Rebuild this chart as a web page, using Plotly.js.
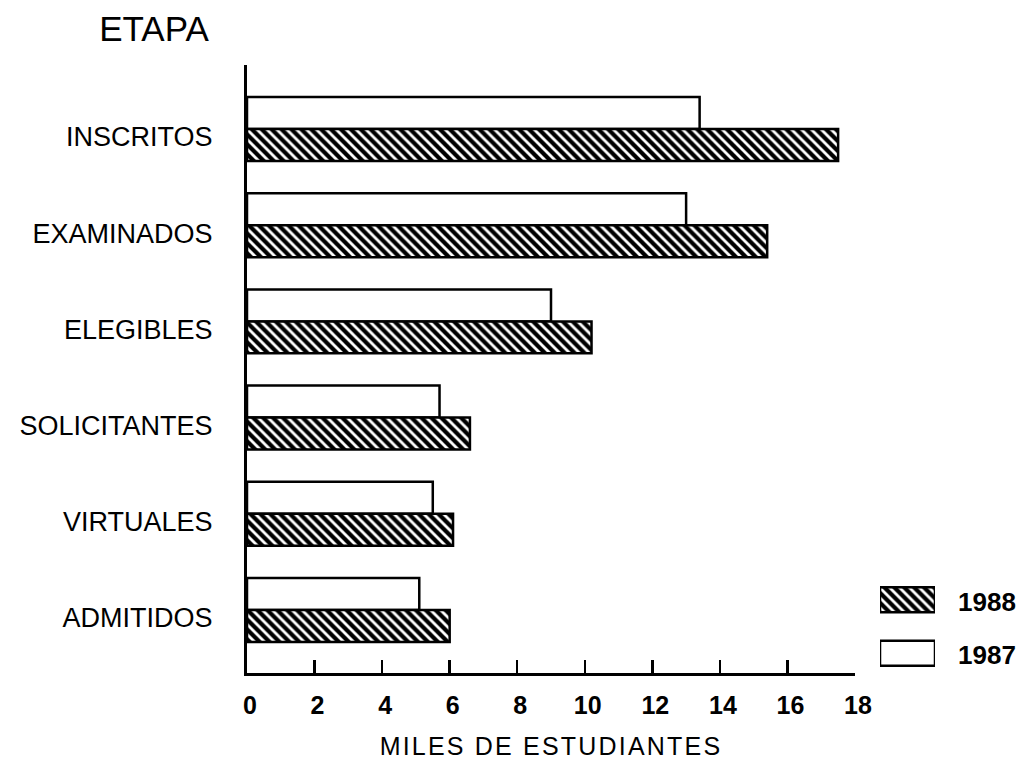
<!DOCTYPE html>
<html>
<head>
<meta charset="utf-8">
<script src="https://cdn.plot.ly/plotly-3.0.1.min.js"></script>
<style>
  html, body { margin: 0; padding: 0; background: #ffffff; }
  #chart { width: 1033px; height: 761px; }
  .xtitle { letter-spacing: 2.2px; }
</style>
</head>
<body>
<div id="chart"></div>
<script>
// ---- data (thousands of students) ----
const etapas = ['INSCRITOS', 'EXAMINADOS', 'ELEGIBLES', 'SOLICITANTES', 'VIRTUALES', 'ADMITIDOS'];
const valores1987 = [13.4, 13.0, 9.0, 5.7, 5.5, 5.1];
const valores1988 = [17.5, 15.4, 10.2, 6.6, 6.1, 6.0];
const xTickVals = [0, 2, 4, 6, 8, 10, 12, 14, 16, 18];
const serieNombres = ['1988', '1987'];
const claveLongitud = [1, 1];

const FONT = 'Liberation Sans, Arial, Helvetica, sans-serif';
const hatch = { shape: '\\', fgcolor: '#000000', bgcolor: '#ffffff', size: 7, solidity: 0.6, fillmode: 'replace' };
const outline = { color: '#000000', width: 2.5 };

const traces = [
  {
    type: 'bar', orientation: 'h', name: '1987',
    y: etapas, x: valores1987,
    marker: { color: '#ffffff', line: outline },
    xaxis: 'x', yaxis: 'y', showlegend: false, hoverinfo: 'skip'
  },
  {
    type: 'bar', orientation: 'h', name: '1988',
    y: etapas, x: valores1988,
    marker: { color: '#ffffff', pattern: hatch, line: outline },
    xaxis: 'x', yaxis: 'y', showlegend: false, hoverinfo: 'skip'
  },
  // legend key drawn as a tiny second subplot
  {
    type: 'bar', orientation: 'h',
    y: [serieNombres[0]], x: [claveLongitud[0]],
    marker: { color: '#ffffff', pattern: hatch, line: outline },
    xaxis: 'x2', yaxis: 'y2', showlegend: false, hoverinfo: 'skip', width: 0.47
  },
  {
    type: 'bar', orientation: 'h',
    y: [serieNombres[1]], x: [claveLongitud[1]],
    marker: { color: '#ffffff', line: outline },
    xaxis: 'x2', yaxis: 'y2', showlegend: false, hoverinfo: 'skip', width: 0.47
  }
];

const W = 1033, H = 761;
const layout = {
  width: W, height: H,
  margin: { l: 0, r: 0, t: 0, b: 0 },
  paper_bgcolor: '#ffffff', plot_bgcolor: '#ffffff',
  font: { family: FONT, color: '#000000' },
  barmode: 'group',
  bargap: 0.335,
  bargroupgap: 0,
  title: {
    text: 'ETAPA', font: { family: FONT, size: 35, color: '#000000' },
    xref: 'paper', yref: 'paper', x: 154 / W, xanchor: 'center', y: 1 - 29 / H, yanchor: 'middle'
  },
  xaxis: {
    domain: [247 / W, 855 / W],
    range: [0, 18],
    tickvals: xTickVals,
    ticktext: xTickVals.map(String),
    ticks: 'inside', ticklen: 13, tickwidth: 2.5, tickcolor: '#000000',
    showline: true, linewidth: 3, linecolor: '#000000',
    showgrid: false, zeroline: false,
    tickfont: { family: FONT, size: 25, weight: 'bold', color: '#000000' },
    ticklabelstandoff: 8,
    ticklabelshift: 3,
    automargin: false,
    title: { text: 'MILES DE ESTUDIANTES', font: { family: FONT, size: 25, color: '#000000' }, standoff: 20 },
    fixedrange: true
  },
  yaxis: {
    domain: [(H - 673) / H, (H - 65) / H],
    type: 'category',
    categoryorder: 'array', categoryarray: etapas,
    range: [5.655, -0.665],
    ticks: '', showline: true, linewidth: 3, linecolor: '#000000',
    showgrid: false, zeroline: false,
    tickfont: { family: FONT, size: 27, color: '#000000' },
    ticklabelstandoff: 26,
    ticklabelshift: -8,
    automargin: false,
    fixedrange: true
  },
  xaxis2: {
    domain: [880 / W, 935 / W], anchor: 'y2',
    range: [0, 1], visible: false, fixedrange: true
  },
  yaxis2: {
    domain: [(H - 680) / H, (H - 573) / H], anchor: 'x2',
    type: 'category', categoryorder: 'array', categoryarray: serieNombres,
    range: [1.5, -0.5],
    side: 'right', ticks: '', showline: false, showgrid: false, zeroline: false,
    tickfont: { family: FONT, size: 26, weight: 'bold', color: '#000000' },
    ticklabelstandoff: 22,
    ticklabelshift: -2,
    automargin: false, fixedrange: true
  }
};

Plotly.newPlot('chart', traces, layout, { staticPlot: true, displayModeBar: false });
</script>
</body>
</html>
